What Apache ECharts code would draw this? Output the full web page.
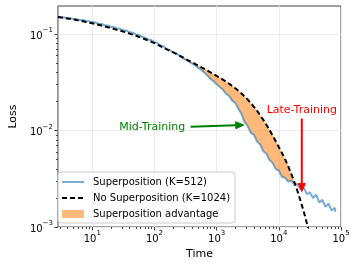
<!DOCTYPE html>
<html><head><meta charset="utf-8">
<script src="https://cdn.jsdelivr.net/npm/echarts@6/dist/echarts.min.js"></script>
<style>html,body{margin:0;padding:0;background:#fff}#c{width:357px;height:265px}</style>
</head><body><div id="c"></div>
<script>
// ---- data ----
const time = [2.8,3.2,3.5,4.0,4.5,5.0,5.6,6.3,7.1,7.9,8.9,10,11.2,12.6,14.1,15.8,17.8,20,22.4,25.1,28.2,31.6,35.5,39.8,44.7,50.1,56.2,63.1,70.8,79.4,89.1,100,112,126,141,158,178,200,224,251,282,316,355,398,447,501,562,631,708,794,891,1000,1122,1259,1413,1585,1778,1995,2239,2512,2818,3162,3548,3981,4467,5012,5623,6310,7079,7943,8913,10000,11220,12589,14125,15849,17783,19953,22387,25119,28184,31623,35481,39811,44668,50119,56234,63096,70795,79433,81300];
const superposition = [0.1500,0.1493,0.1486,0.1455,0.1459,0.1426,0.1426,0.1393,0.1396,0.1358,0.1358,0.1321,0.1315,0.1271,0.1271,0.1233,0.1225,0.1180,0.1180,0.1138,0.1130,0.1089,0.1084,0.1042,0.1033,0.0989,0.0975,0.0933,0.0918,0.0877,0.0863,0.0822,0.0802,0.0759,0.0738,0.0698,0.0676,0.0650,0.0627,0.0601,0.0572,0.0540,0.0522,0.0495,0.0475,0.0447,0.0426,0.0400,0.0372,0.0342,0.0325,0.0301,0.0283,0.0266,0.0239,0.0229,0.0204,0.0193,0.0168,0.0148,0.0122,0.0111,0.00944,0.00902,0.00767,0.00716,0.00610,0.00575,0.00495,0.00462,0.00398,0.00385,0.00331,0.00324,0.00295,0.00302,0.00275,0.00279,0.00245,0.00257,0.00219,0.00229,0.00200,0.00216,0.00180,0.00191,0.00162,0.00174,0.00148,0.00158,0.00143];
const noSuperposition = [0.1500,0.1483,0.1466,0.1449,0.1432,0.1413,0.1393,0.1374,0.1355,0.1334,0.1312,0.1291,0.1268,0.1245,0.1222,0.1199,0.1175,0.1151,0.1127,0.1104,0.1081,0.1059,0.1035,0.1009,0.0984,0.0959,0.0933,0.0908,0.0881,0.0855,0.0830,0.0804,0.0774,0.0746,0.0719,0.0693,0.0668,0.0644,0.0621,0.0597,0.0574,0.0552,0.0531,0.0511,0.0491,0.0472,0.0454,0.0436,0.0418,0.0401,0.0385,0.0368,0.0352,0.0337,0.0321,0.0305,0.0289,0.0274,0.0258,0.0242,0.0225,0.0209,0.0192,0.0176,0.0160,0.0144,0.0129,0.01146,0.01012,0.00887,0.00773,0.00673,0.00586,0.00504,0.00427,0.00355,0.00292,0.00236,0.00186,0.00145,0.00110,0.00081,0.00059,null,null,null,null,null,null,null,null];
const seriesNames = ['Superposition (K=512)','No Superposition (K=1024)','Superposition advantage'];
const xMajorTicks = [10,100,1000,10000,100000];
const xTickExp = ['1','2','3','4','5'];
const yMajorTicks = [0.001,0.01,0.1];
const yTickExp = ['−3','−2','−1'];
const xMinorTicks = [3,4,5,6,7,8,9,20,30,40,50,60,70,80,90,200,300,400,500,600,700,800,900,2000,3000,4000,5000,6000,7000,8000,9000,20000,30000,40000,50000,60000,70000,80000,90000];
const yMinorTicks = [0.002,0.003,0.004,0.005,0.006,0.007,0.008,0.009,0.02,0.03,0.04,0.05,0.06,0.07,0.08,0.09];
// annotations: label, text anchor, arrow tail, arrow head (data units)
const annLabels = ['Mid-Training','Late-Training'];
const annText = [[92,0.01094],[23400,0.0163]];
const annTail = [[380,0.01094],[23400,0.0133]];
const annHead = [[2730,0.0114],[23400,0.00233]];
const annColors = ['#008000','#ff0000'];

const XMIN = 2.8, XMAX = 100000, YMIN = 0.001, YMAX = 0.195;
const FONT = '"DejaVu Sans", sans-serif';
const AX = '#444';

function lbl(vals, exps){
  return function(v){
    for (let i=0;i<vals.length;i++){ if (Math.abs(Math.log10(v)-Math.log10(vals[i]))<1e-6) return '{b|10}{s|'+exps[i]+'}'; }
    return '';
  };
}
const richLbl = {
  b:{fontFamily:FONT,fontSize:10,lineHeight:14,verticalAlign:'bottom',color:'#000'},
  s:{fontFamily:FONT,fontSize:7,lineHeight:8,verticalAlign:'top',color:'#000'}
};

const chart = echarts.init(document.getElementById('c'), null, {renderer:'canvas'});
const option = {
  animation:false,
  grid:{left:52,right:16,top:6,bottom:38,show:true,borderColor:AX,borderWidth:1,backgroundColor:'transparent'},
  xAxis:[{
    type:'log',min:XMIN,max:XMAX,position:'bottom',
    name:'Time',nameLocation:'middle',nameGap:18,
    nameTextStyle:{fontFamily:FONT,fontSize:11,color:'#000'},
    axisLine:{show:false},
    axisTick:{show:true,length:3.5,lineStyle:{color:AX},customValues:xMajorTicks},
    axisLabel:{show:true,margin:3,fontFamily:FONT,fontSize:10,color:'#000',customValues:xMajorTicks,formatter:lbl(xMajorTicks,xTickExp),rich:richLbl},
    splitLine:{show:true,lineStyle:{color:'#ebebeb',width:1}}
  },{
    type:'log',min:XMIN,max:XMAX,position:'bottom',
    axisLine:{show:false},
    axisTick:{show:true,length:2,lineStyle:{color:AX},customValues:xMinorTicks},
    axisLabel:{show:false},splitLine:{show:false}
  }],
  yAxis:[{
    type:'log',min:YMIN,max:YMAX,position:'left',
    name:'Loss',nameLocation:'middle',nameGap:34,nameRotate:90,
    nameTextStyle:{fontFamily:FONT,fontSize:11,color:'#000'},
    axisLine:{show:false},
    axisTick:{show:true,length:3.5,lineStyle:{color:AX},customValues:yMajorTicks},
    axisLabel:{show:true,margin:5,fontFamily:FONT,fontSize:10,color:'#000',customValues:yMajorTicks,formatter:lbl(yMajorTicks,yTickExp),rich:richLbl},
    splitLine:{show:true,lineStyle:{color:'#ebebeb',width:1}}
  },{
    type:'log',min:YMIN,max:YMAX,position:'left',
    axisLine:{show:false},
    axisTick:{show:true,length:2,lineStyle:{color:AX},customValues:yMinorTicks},
    axisLabel:{show:false},splitLine:{show:false}
  }],
  legend:{
    left:58,top:172,orient:'vertical',
    data:[
      {name:seriesNames[0],itemStyle:{opacity:0}},
      {name:seriesNames[1],itemStyle:{opacity:0}},
      {name:seriesNames[2],icon:'rect'}
    ],
    itemWidth:22,itemHeight:8,itemGap:4,
    padding:[4,5,3,3],
    borderColor:'#cccccc',borderWidth:1,borderRadius:3,backgroundColor:'rgba(255,255,255,0.85)',
    textStyle:{fontFamily:FONT,fontSize:10,color:'#000',lineHeight:12,padding:[0,0,0,4]}
  },
  series:[
    {
      type:'custom',name:seriesNames[2],coordinateSystem:'cartesian2d',z:1,clip:true,
      itemStyle:{color:'rgba(255,127,14,0.55)'},
      data:[[time[0],noSuperposition[0]]],
      renderItem:function(params,api){
        const children=[];
        let run=[];
        const flush=function(){
          if(run.length>1){
            const up=run.map(i=>api.coord([time[i],noSuperposition[i]]));
            const lo=run.slice().reverse().map(i=>api.coord([time[i],superposition[i]]));
            children.push({type:'polygon',shape:{points:up.concat(lo)},style:{fill:'rgba(255,127,14,0.55)'}});
          }
          run=[];
        };
        for(let i=0;i<time.length;i++){
          const a=noSuperposition[i], b=superposition[i];
          if(a!=null && b!=null && a>b) run.push(i); else flush();
        }
        flush();
        return {type:'group',children:children};
      }
    },
    {
      type:'line',name:seriesNames[0],z:2,
      data:time.map((t,i)=>[t,superposition[i]]),
      symbol:'none',showSymbol:false,clip:true,
      lineStyle:{color:'rgba(31,119,180,0.6)',width:2},
      itemStyle:{color:'rgba(31,119,180,0.6)'}
    },
    {
      type:'line',name:seriesNames[1],z:3,
      data:time.map((t,i)=>[t,noSuperposition[i]]),
      symbol:'none',showSymbol:false,clip:true,connectNulls:false,
      lineStyle:{color:'#000',width:2,type:[5,3]},
      itemStyle:{color:'#000'}
    },
    {
      type:'custom',name:'annotations',coordinateSystem:'cartesian2d',z:5,clip:false,
      data:annLabels.map((s,i)=>[annText[i][0],annText[i][1],i]),
      renderItem:function(params,api){
        const i=params.dataIndex;
        const tp=api.coord(annText[i]);
        const tl=api.coord(annTail[i]);
        const hd=api.coord(annHead[i]);
        const dx=hd[0]-tl[0], dy=hd[1]-tl[1];
        const len=Math.sqrt(dx*dx+dy*dy), ux=dx/len, uy=dy/len;
        const HL=8, HW=3.5;
        const bx=hd[0]-ux*HL, by=hd[1]-uy*HL;
        const c=annColors[i];
        return {type:'group',children:[
          {type:'text',style:{text:annLabels[i],x:tp[0],y:tp[1],align:'center',verticalAlign:'middle',fill:c,font:'11px '+FONT}},
          {type:'line',shape:{x1:tl[0],y1:tl[1],x2:bx,y2:by},style:{stroke:c,lineWidth:2}},
          {type:'polygon',shape:{points:[[hd[0],hd[1]],[bx-uy*HW,by+ux*HW],[bx+uy*HW,by-ux*HW]]},style:{fill:c,stroke:c,lineWidth:1}}
        ]};
      }
    }
  ]
};
chart.setOption(option);
</script>
</body></html>
